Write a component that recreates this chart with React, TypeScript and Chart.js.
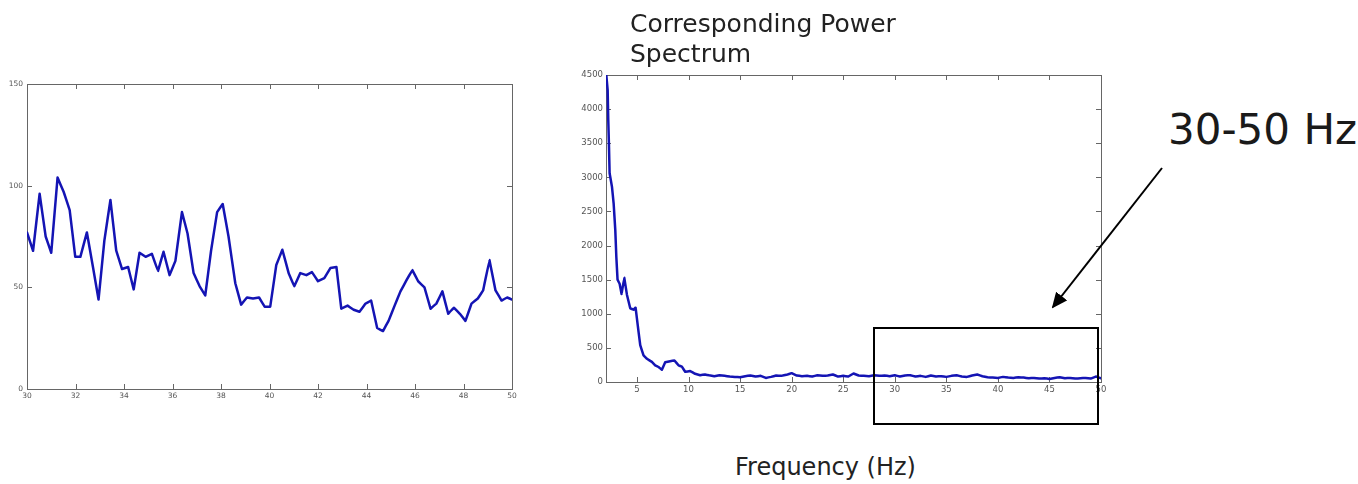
import React, { useEffect, useRef } from "react";
import { Chart, registerables } from "chart.js";

Chart.register(...registerables);

// ---- Left chart: signal segment 30-50 ----
const leftTime = [
  30.0, 30.25, 30.52, 30.77, 31.0, 31.26, 31.51, 31.76, 31.99, 32.2, 32.47, 32.72, 32.95, 33.19, 33.44,
  33.68, 33.92, 34.17, 34.4, 34.64, 34.89, 35.15, 35.4, 35.63, 35.88, 36.12, 36.39, 36.62, 36.87, 37.12,
  37.35, 37.59, 37.84, 38.07, 38.31, 38.59, 38.83, 39.07, 39.32, 39.57, 39.8, 40.03, 40.28, 40.53, 40.79,
  41.02, 41.27, 41.52, 41.75, 42.0, 42.26, 42.51, 42.76, 42.96, 43.22, 43.47, 43.71, 43.96, 44.19, 44.44,
  44.68, 44.91, 45.16, 45.4, 45.65, 45.89, 46.13, 46.39, 46.64, 46.88, 47.13, 47.37, 47.6, 47.85, 48.08,
  48.33, 48.59, 48.81, 49.07, 49.32, 49.57, 49.8, 50.0,
];
const leftAmplitude = [
  77, 68, 96, 75, 67, 104, 97, 88, 65, 65, 77, 60, 44, 73, 93,
  68, 59, 60, 49, 67, 65, 66.5, 58, 67.5, 56, 63, 87, 76.5, 57, 50.5,
  46, 68, 87, 91, 75, 52, 41.5, 45, 44.5, 45, 40.5, 40.5, 61, 68.5, 57,
  50.5, 57, 56, 57.5, 53, 54.5, 59.5, 60, 39.5, 41, 39, 38, 42, 43.5, 30,
  28.5, 33.5, 41, 48, 53.5, 58.5, 53, 50, 39.5, 42, 48, 37, 40, 37, 33.5,
  42, 44.5, 48.5, 63.5, 48.5, 43.5, 45, 44,
];

// ---- Right chart: power spectrum ----
const spectrumFreq = [
  2.03, 2.16, 2.22, 2.29, 2.35, 2.58, 2.74, 2.9, 3.0, 3.12, 3.32, 3.51, 3.77, 4.03, 4.35, 4.67, 4.87,
  5.0, 5.16, 5.32, 5.64, 5.97, 6.45, 6.77, 7.09, 7.42, 7.74, 8.22, 8.64, 9.03, 9.36, 9.68, 10.16, 10.64,
  11.13, 11.6,
  12, 12.5, 13, 13.5, 14, 14.5, 15, 15.5, 16, 16.5, 17, 17.5, 18, 18.5, 19, 19.5, 20, 20.5, 21, 21.5,
  22, 22.5, 23, 23.5, 24, 24.5, 25, 25.5, 26, 26.5, 27, 27.5, 28, 28.5, 29, 29.5, 30, 30.5, 31, 31.5,
  32, 32.5, 33, 33.5, 34, 34.5, 35, 35.5, 36, 36.5, 37, 37.5, 38, 38.5, 39, 39.5, 40, 40.5, 41, 41.5,
  42, 42.5, 43, 43.5, 44, 44.5, 45, 45.5, 46, 46.5, 47, 47.5, 48, 48.5, 49, 49.5, 50,
];
const spectrumPower = [
  4500, 4280, 3840, 3450, 3060, 2860, 2620, 2230, 1840, 1500, 1440, 1290, 1530, 1280, 1080, 1060, 1090,
  930, 730, 540, 390, 340, 295, 245, 220, 180, 290, 305, 315, 245, 225, 150, 160, 120,
  100, 110,
  98, 85, 100, 90, 80, 75, 70, 85, 95, 80, 90, 60, 75, 95, 90, 105, 130, 95, 85, 90,
  80, 100, 90, 95, 110, 80, 90, 80, 125, 95, 90, 85, 100, 90, 95, 85, 100, 80, 95, 100,
  80, 90, 75, 95, 80, 85, 75, 90, 100, 80, 75, 95, 110, 85, 70, 65, 60, 75, 65, 60,
  70, 65, 55, 60, 50, 55, 45, 60, 70, 55, 60, 50, 55, 60, 50, 80, 55,
];

const LINE_COLOR = "#1414b4";
const AXIS_COLOR = "#666666";
const TICK_TEXT = "#555555";

const matlabBox = {
  id: "matlabBox",
  beforeDatasetsDraw(chart: any, _args: any, opts: any) {
    const { ctx, chartArea: a, scales } = chart;
    const len = opts.tickLen ?? 5;
    ctx.save();
    ctx.strokeStyle = opts.color ?? AXIS_COLOR;
    ctx.lineWidth = 1;
    ctx.beginPath();
    scales.x.ticks.forEach((t: any) => {
      const px = Math.round(scales.x.getPixelForValue(t.value)) + 0.5;
      ctx.moveTo(px, a.bottom);
      ctx.lineTo(px, a.bottom - len);
      ctx.moveTo(px, a.top);
      ctx.lineTo(px, a.top + len);
    });
    scales.y.ticks.forEach((t: any) => {
      const py = Math.round(scales.y.getPixelForValue(t.value)) + 0.5;
      ctx.moveTo(a.left, py);
      ctx.lineTo(a.left + len, py);
      ctx.moveTo(a.right, py);
      ctx.lineTo(a.right - len, py);
    });
    ctx.stroke();
    ctx.strokeRect(Math.round(a.left) + 0.5, Math.round(a.top) + 0.5, Math.round(a.right - a.left), Math.round(a.bottom - a.top));
    ctx.restore();
  },
};

function makeChart(
  canvas: HTMLCanvasElement,
  xs: number[],
  ys: number[],
  cfg: {
    xMin: number; xMax: number; xStep: number; yMin: number; yMax: number; yStep: number;
    yWidth: number; xHeight: number; padTop: number; padRight: number; fontFamily: string; fontSize: number;
    yPad: number; xPad: number; lineWidth: number; tickLen: number;
  }
) {
  const data = xs.map((x, i) => ({ x, y: ys[i] }));
  const plain = (v: any) => String(v);
  return new Chart(canvas, {
    type: "line",
    data: {
      datasets: [
        {
          data,
          borderColor: LINE_COLOR,
          borderWidth: cfg.lineWidth,
          pointRadius: 0,
          tension: 0.001,
          fill: false,
          borderJoinStyle: "round",
          borderCapStyle: "round",
        },
      ],
    },
    options: {
      animation: false,
      responsive: false,
      devicePixelRatio: 1,
      parsing: false as any,
      layout: { padding: { top: cfg.padTop, right: cfg.padRight, left: 0, bottom: 0 } },
      plugins: {
        legend: { display: false },
        tooltip: { enabled: false },
        title: { display: false },
        matlabBox: { color: AXIS_COLOR, tickLen: cfg.tickLen },
      } as any,
      scales: {
        x: {
          type: "linear",
          min: cfg.xMin,
          max: cfg.xMax,
          grid: { display: false, drawTicks: false },
          border: { display: false },
          ticks: {
            stepSize: cfg.xStep,
            includeBounds: false,
            maxRotation: 0,
            autoSkip: false,
            padding: cfg.xPad,
            color: TICK_TEXT,
            font: { family: cfg.fontFamily, size: cfg.fontSize },
            callback: plain,
          },
          afterFit(scale: any) {
            scale.height = cfg.xHeight;
          },
        },
        y: {
          type: "linear",
          min: cfg.yMin,
          max: cfg.yMax,
          grid: { display: false, drawTicks: false },
          border: { display: false },
          ticks: {
            stepSize: cfg.yStep,
            autoSkip: false,
            padding: cfg.yPad,
            color: TICK_TEXT,
            font: { family: cfg.fontFamily, size: cfg.fontSize },
            callback: plain,
          },
          afterFit(scale: any) {
            scale.width = cfg.yWidth;
          },
        },
      },
    },
    plugins: [matlabBox as any],
  });
}

export default function App() {
  const leftRef = useRef<HTMLCanvasElement>(null);
  const rightRef = useRef<HTMLCanvasElement>(null);

  useEffect(() => {
    const c1 = makeChart(leftRef.current!, leftTime, leftAmplitude, {
      xMin: 30, xMax: 50, xStep: 2, yMin: 0, yMax: 150, yStep: 50,
      yWidth: 27, xHeight: 31, padTop: 24, padRight: 28,
      fontFamily: "'DejaVu Sans', sans-serif", fontSize: 7.5, yPad: 4, xPad: 3, lineWidth: 2.5, tickLen: 5,
    });
    const c2 = makeChart(rightRef.current!, spectrumFreq, spectrumPower, {
      xMin: 2, xMax: 50, xStep: 5, yMin: 0, yMax: 4500, yStep: 500,
      yWidth: 46, xHeight: 18, padTop: 15, padRight: 19,
      fontFamily: "'DejaVu Sans', sans-serif", fontSize: 8.5, yPad: 3, xPad: 3, lineWidth: 2.5, tickLen: 5,
    });
    return () => {
      c1.destroy();
      c2.destroy();
    };
  }, []);

  const textFont = "'DejaVu Sans', sans-serif";

  return (
    <div style={{ position: "absolute", left: 0, top: 0, width: 1358, height: 484, background: "#ffffff", overflow: "hidden" }}>
      <canvas ref={leftRef} width={540} height={360} style={{ position: "absolute", left: 0, top: 60, width: 540, height: 360 }} />
      <canvas ref={rightRef} width={560} height={340} style={{ position: "absolute", left: 560, top: 60, width: 560, height: 340 }} />
      <div style={{ position: "absolute", left: 630, top: 9, fontFamily: textFont, fontSize: 25, lineHeight: "30px", color: "#222", whiteSpace: "nowrap" }}>
        Corresponding Power
        <br />
        Spectrum
      </div>
      <div style={{ position: "absolute", left: 735, top: 455, fontFamily: textFont, fontSize: 24, lineHeight: 1, color: "#222", whiteSpace: "nowrap" }}>
        Frequency (Hz)
      </div>
      <div style={{ position: "absolute", left: 1168, top: 109, fontFamily: textFont, fontSize: 42, lineHeight: 1, color: "#1a1a1a", whiteSpace: "nowrap" }}>
        30-50 Hz
      </div>
      <svg width={1358} height={484} style={{ position: "absolute", left: 0, top: 0, pointerEvents: "none" }}>
        <defs>
          <marker id="arrowHead" markerWidth="8" markerHeight="8" refX="7" refY="4" orient="auto" markerUnits="strokeWidth">
            <path d="M0,0.5 L8,4 L0,7.5 Z" fill="#000" />
          </marker>
        </defs>
        <line x1={1162} y1={168} x2={1053} y2={307} stroke="#000" strokeWidth={2} markerEnd="url(#arrowHead)" />
        <rect x={874} y={328} width={224} height={96} fill="none" stroke="#000" strokeWidth={2} />
      </svg>
    </div>
  );
}
